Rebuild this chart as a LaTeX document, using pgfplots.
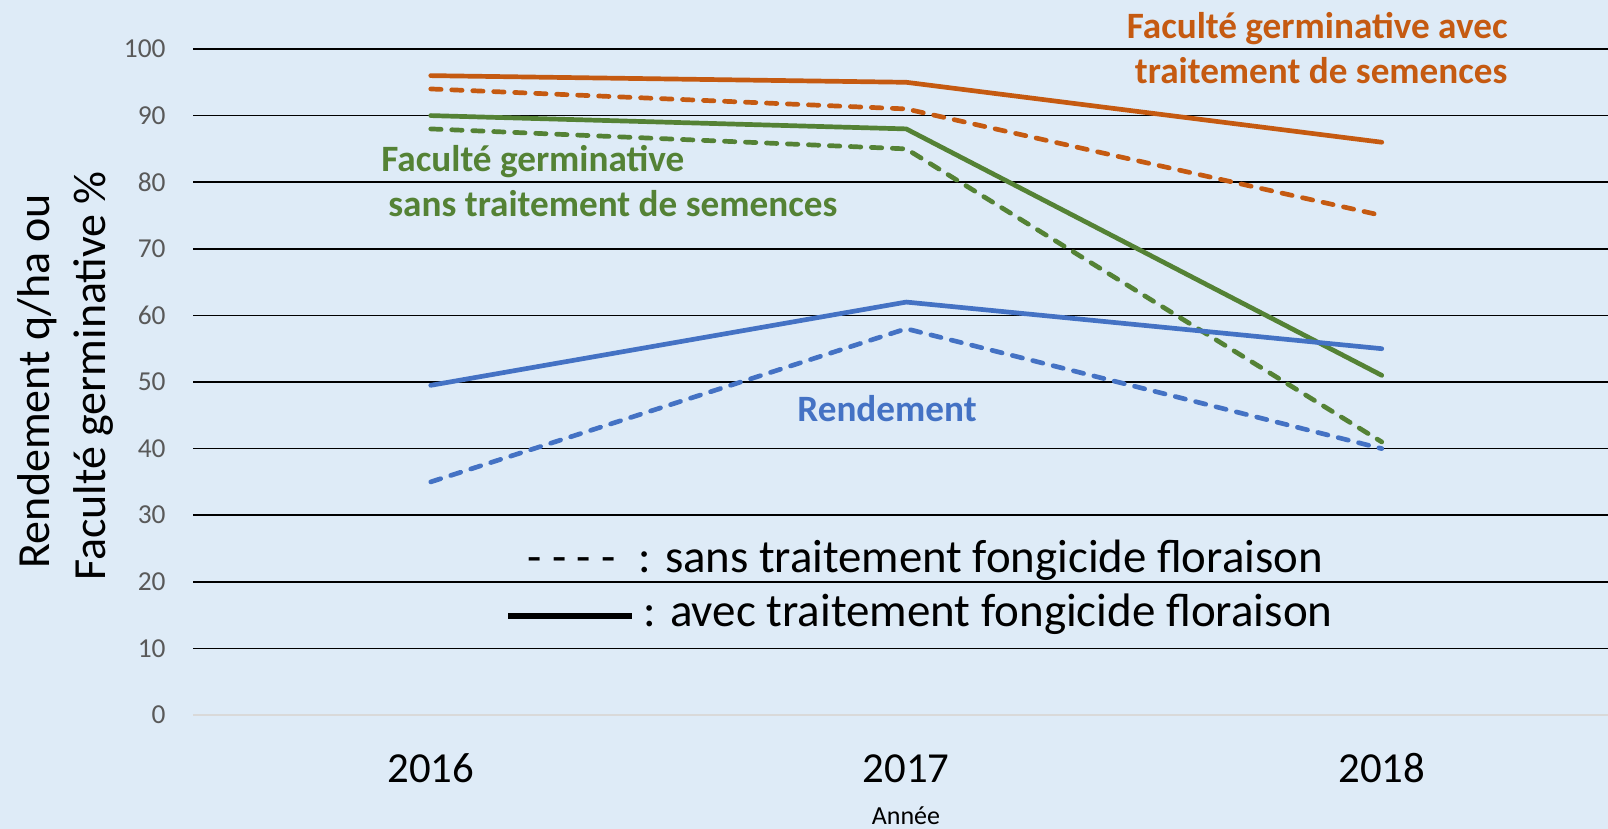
\documentclass[border=0pt]{standalone}
\usepackage{fontspec}
\setmainfont{Carlito}
\usepackage{pgfplots}
\pgfplotsset{compat=1.18}
\definecolor{bg}{RGB}{222,235,247}
\definecolor{cor}{RGB}{197,90,17}
\definecolor{cgr}{RGB}{84,130,53}
\definecolor{cbl}{RGB}{68,114,196}
\definecolor{ticc}{RGB}{89,89,89}
\definecolor{zeroc}{RGB}{217,217,217}
\begin{document}
\begin{tikzpicture}[x=0.5pt,y=0.5pt]
\fill[bg] (0,0) rectangle (1608,829);
\begin{axis}[
  at={(96.5pt,57pt)}, anchor=south west,
  scale only axis, width=713.25pt, height=333pt,
  xmin=-0.5, xmax=2.5, ymin=0, ymax=100,
  axis line style={draw=none},
  major tick length=0pt,
  xtick={0,1,2}, xticklabels={2016,2017,2018},
  x tick label style={font=\fontsize{21.4}{24}\selectfont, anchor=center, inner sep=0pt, yshift=-26.75pt},
  ytick={10,20,...,100},
  extra y ticks={0},
  extra y tick style={grid style={draw=zeroc, line width=0.9pt}},
  y tick label style={font=\fontsize{13.7}{16}\selectfont, text=ticc, anchor=east, inner sep=0pt, xshift=-13.5pt},
  /pgf/number format/assume math mode=true,
  ymajorgrids,
  grid style={draw=black, line width=0.8pt},
  clip=false,
]
\addplot[cor, line width=2.35pt, line cap=round, line join=round] coordinates {(0,96) (1,95) (2,86)};
\addplot[cor, line width=2.35pt, line cap=round, line join=round, dash pattern=on 5.2pt off 5.3pt] coordinates {(0,94) (1,91) (2,75)};
\addplot[cgr, line width=2.35pt, line cap=round, line join=round] coordinates {(0,90) (1,88) (2,51)};
\addplot[cgr, line width=2.35pt, line cap=round, line join=round, dash pattern=on 5.2pt off 5.3pt] coordinates {(0,88) (1,85) (2,41)};
\addplot[cbl, line width=2.35pt, line cap=round, line join=round] coordinates {(0,49.5) (1,62) (2,55)};
\addplot[cbl, line width=2.35pt, line cap=round, line join=round, dash pattern=on 5.2pt off 5.3pt] coordinates {(0,35) (1,58) (2,40)};
\end{axis}
% y axis title
\node[rotate=90, anchor=base, inner sep=0pt, font=\fontsize{23}{27}\selectfont] at (50,448) {Rendement q/ha ou};
\node[rotate=90, anchor=base, inner sep=0pt, font=\fontsize{23}{27}\selectfont] at (106,453) {Faculté germinative \%};
% x axis title
\node[anchor=base, inner sep=0pt, font=\fontsize{13}{15}\selectfont] at (906,4) {Année};
% series labels
\node[anchor=base east, inner sep=0pt, text=cor, font=\fontsize{18.6}{21}\selectfont\bfseries] at (1508,790) {Faculté germinative avec};
\node[anchor=base east, inner sep=0pt, text=cor, font=\fontsize{18.6}{21}\selectfont\bfseries] at (1508,745) {traitement de semences};
\node[anchor=base west, inner sep=0pt, text=cgr, font=\fontsize{18.6}{21}\selectfont\bfseries] at (381,657) {Faculté germinative};
\node[anchor=base west, inner sep=0pt, text=cgr, font=\fontsize{18.6}{21}\selectfont\bfseries] at (388,612) {sans traitement de semences};
\node[anchor=base, inner sep=0pt, text=cbl, font=\fontsize{18.6}{21}\selectfont\bfseries] at (887,407) {Rendement};
% line style key
\node[anchor=base west, inner sep=0pt, font=\fontsize{23.3}{27}\selectfont] at (527,256) {- - - -};
\node[anchor=base west, inner sep=0pt, font=\fontsize{23.4}{27}\selectfont] at (638,256) {: sans traitement fongicide floraison};
\node[anchor=west, inner sep=0pt] at (508,213) {\rule{62pt}{3.3pt}};
\node[anchor=base west, inner sep=0pt, font=\fontsize{23.5}{27}\selectfont] at (643,202) {: avec traitement fongicide floraison};
\pgfresetboundingbox
\path (0,0) rectangle (1608,829);
\end{tikzpicture}
\end{document}
